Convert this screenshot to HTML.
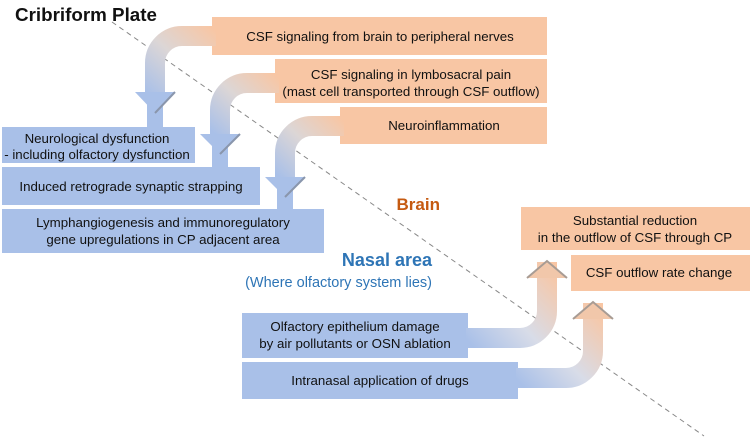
<!DOCTYPE html>
<html><head><meta charset="utf-8"><style>
html,body{margin:0;padding:0;background:#fff;}
svg{display:block;font-family:"Liberation Sans",Arial,sans-serif;}
</style></head><body>
<svg width="750" height="440" viewBox="0 0 750 440" xmlns="http://www.w3.org/2000/svg">
<defs>
<linearGradient id="gd1" gradientUnits="userSpaceOnUse" x1="215" y1="30" x2="155" y2="100"><stop offset="0" stop-color="#f8c6a4"/><stop offset="0.5" stop-color="#dcd6d6"/><stop offset="1" stop-color="#a9c0e8"/></linearGradient>
<linearGradient id="gd2" gradientUnits="userSpaceOnUse" x1="278" y1="77" x2="222" y2="140"><stop offset="0" stop-color="#f8c6a4"/><stop offset="0.5" stop-color="#dcd6d6"/><stop offset="1" stop-color="#a9c0e8"/></linearGradient>
<linearGradient id="gd3" gradientUnits="userSpaceOnUse" x1="343" y1="120" x2="285" y2="182"><stop offset="0" stop-color="#f8c6a4"/><stop offset="0.5" stop-color="#dcd6d6"/><stop offset="1" stop-color="#a9c0e8"/></linearGradient>
<linearGradient id="gu1" gradientUnits="userSpaceOnUse" x1="465" y1="338" x2="547" y2="262"><stop offset="0" stop-color="#a9c0e8"/><stop offset="0.45" stop-color="#d8dce8"/><stop offset="1" stop-color="#f8c6a4"/></linearGradient>
<linearGradient id="gu2" gradientUnits="userSpaceOnUse" x1="515" y1="378" x2="593" y2="303"><stop offset="0" stop-color="#a9c0e8"/><stop offset="0.45" stop-color="#d8dce8"/><stop offset="1" stop-color="#f8c6a4"/></linearGradient>
</defs>

<line x1="112" y1="22" x2="704" y2="436" stroke="#888" stroke-width="1" stroke-dasharray="5,4"/>

<!-- orange boxes -->
<rect x="212" y="17" width="335" height="38" fill="#f8c6a4"/>
<rect x="275" y="59" width="272" height="44" fill="#f8c6a4"/>
<rect x="340" y="107" width="207" height="37" fill="#f8c6a4"/>
<rect x="521" y="207" width="229" height="43" fill="#f8c6a4"/>
<rect x="571" y="255" width="179" height="36" fill="#f8c6a4"/>

<!-- top arrows -->
<path d="M216 36 H182 A27 27 0 0 0 155 63 V100" fill="none" stroke="url(#gd1)" stroke-width="20"/>
<path d="M279 83 H247 A27 27 0 0 0 220 110 V140" fill="none" stroke="url(#gd2)" stroke-width="20"/>
<path d="M344 126 H312 A27 27 0 0 0 285 153 V184" fill="none" stroke="url(#gd3)" stroke-width="20"/>

<!-- blue boxes -->
<rect x="2" y="127" width="193" height="36" fill="#a9c0e8"/>
<rect x="2" y="167" width="258" height="38" fill="#a9c0e8"/>
<rect x="2" y="209" width="322" height="44" fill="#a9c0e8"/>
<rect x="242" y="313" width="226" height="45" fill="#a9c0e8"/>
<rect x="242" y="362" width="276" height="37" fill="#a9c0e8"/>

<rect x="147" y="100" width="16" height="27" fill="#a9c0e8"/>
<rect x="212" y="140" width="16" height="27" fill="#a9c0e8"/>
<rect x="277" y="184" width="16" height="25" fill="#a9c0e8"/>
<polygon points="135,92 175,92 155,113" fill="#a9c0e8"/>
<polyline points="155,113 175,92" fill="none" stroke="#8a96ac" stroke-width="2"/>
<polygon points="200,134 240,134 220,154" fill="#a9c0e8"/>
<polyline points="220,154 240,134" fill="none" stroke="#8a96ac" stroke-width="2"/>
<polygon points="265,177 305,177 285,197" fill="#a9c0e8"/>
<polyline points="285,197 305,177" fill="none" stroke="#8a96ac" stroke-width="2"/>

<!-- bottom arrows -->
<path d="M466 338 H520 A27 27 0 0 0 547 311 V262" fill="none" stroke="url(#gu1)" stroke-width="20"/>
<path d="M516 378 H566 A27 27 0 0 0 593 351 V303" fill="none" stroke="url(#gu2)" stroke-width="20"/>
<polygon points="527,278 547,261 567,278" fill="#f1c7aa"/>
<polyline points="527,278 547,261 567,278" fill="none" stroke="#a89c94" stroke-width="2"/>
<polygon points="573,319 593,302 613,319" fill="#f1c7aa"/>
<polyline points="573,319 593,302 613,319" fill="none" stroke="#a89c94" stroke-width="2"/>

<!-- text -->
<text x="15" y="21" font-size="18.8" font-weight="bold" fill="#111">Cribriform Plate</text>
<g font-size="13.3" fill="#111" text-anchor="middle">
<text x="380" y="41">CSF signaling from brain to peripheral nerves</text>
<text x="411" y="79">CSF signaling in lymbosacral pain</text>
<text x="411" y="96">(mast cell transported through CSF outflow)</text>
<text x="444" y="130">Neuroinflammation</text>
<text x="97" y="143">Neurological dysfunction</text>
<text x="97" y="159">- including olfactory dysfunction</text>
<text x="131" y="191">Induced retrograde synaptic strapping</text>
<text x="163" y="227">Lymphangiogenesis and immunoregulatory</text>
<text x="163" y="244">gene upregulations in CP adjacent area</text>
<text x="635" y="225">Substantial reduction</text>
<text x="635" y="242">in the outflow of CSF through CP</text>
<text x="659" y="277">CSF outflow rate change</text>
<text x="355" y="331">Olfactory epithelium damage</text>
<text x="355" y="348">by air pollutants or OSN ablation</text>
<text x="380" y="385">Intranasal application of drugs</text>
</g>
<text x="440" y="210" font-size="17" font-weight="bold" fill="#c55a11" text-anchor="end">Brain</text>
<text x="432" y="266" font-size="18" font-weight="bold" fill="#2e75b6" text-anchor="end">Nasal area</text>
<text x="432" y="287" font-size="14.5" fill="#2e75b6" text-anchor="end">(Where olfactory system lies)</text>
</svg>
</body></html>
